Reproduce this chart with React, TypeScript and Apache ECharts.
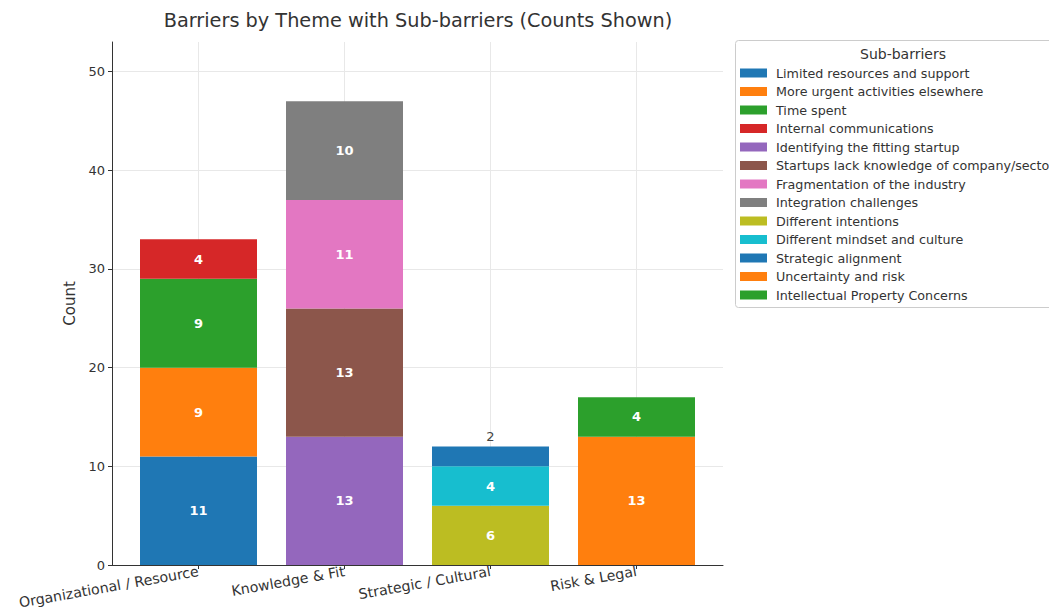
import React, { useEffect, useRef } from "react";
import * as echarts from "echarts";

const themes = ["Organizational / Resource", "Knowledge & Fit", "Strategic / Cultural", "Risk & Legal"];
const subBarriers = [
  "Limited resources and support",
  "More urgent activities elsewhere",
  "Time spent",
  "Internal communications",
  "Identifying the fitting startup",
  "Startups lack knowledge of company/sector",
  "Fragmentation of the industry",
  "Integration challenges",
  "Different intentions",
  "Different mindset and culture",
  "Strategic alignment",
  "Uncertainty and risk",
  "Intellectual Property Concerns",
];
const subTheme = [0, 0, 0, 0, 1, 1, 1, 1, 2, 2, 2, 3, 3];
const subCounts = [11, 9, 9, 4, 13, 13, 11, 10, 6, 4, 2, 13, 4];
const colors = [
  "#1f77b4", "#ff7f0e", "#2ca02c", "#d62728", "#9467bd", "#8c564b", "#e377c2",
  "#7f7f7f", "#bcbd22", "#17becf", "#1f77b4", "#ff7f0e", "#2ca02c",
];
const yTicks = [0, 10, 20, 30, 40, 50];
const themeIdx = [0, 1, 2, 3];

const FONT = "DejaVu Sans";

export default function App() {
  const ref = useRef<HTMLDivElement>(null);
  useEffect(() => {
    const chart = echarts.init(ref.current!, null, { renderer: "svg" });
    const series = subBarriers.map((name, i) => {
      const small = subCounts[i] < 3;
      return {
        type: "bar",
        name,
        stack: "total",
        xAxisIndex: 0,
        yAxisIndex: 0,
        barWidth: 117,
        itemStyle: { color: colors[i] },
        label: {
          show: true,
          position: small ? "top" : "inside",
          distance: 4,
          color: small ? "#444" : "#fff",
          fontWeight: small ? "normal" : "bold",
          fontSize: 13,
          fontFamily: FONT,
        },
        data: themeIdx.map((t) => (subTheme[i] === t ? subCounts[i] : null)),
      };
    });
    chart.setOption({
      animation: false,
      textStyle: { fontFamily: FONT },
      grid: [
        { left: 125.5, right: 339.5, top: 42, bottom: 49, containLabel: false, outerBoundsMode: "none" },
        { left: 112, right: 326, top: 42, bottom: 49, containLabel: false, outerBoundsMode: "none" },
      ],
      xAxis: [
        { type: "category", gridIndex: 0, data: themes, show: false },
        {
          type: "value",
          gridIndex: 1,
          min: -0.5925,
          max: 3.5925,
          axisLine: { show: true, onZero: false, lineStyle: { color: "#333", width: 1 } },
          axisTick: { show: true, customValues: themeIdx, length: 4, lineStyle: { color: "#333" } },
          axisLabel: {
            customValues: themeIdx,
            formatter: (v: number) => themes[Math.round(v)] ?? "",
            rotate: 10,
            fontSize: 14.2,
            color: "#333",
            fontFamily: FONT,
            margin: 6,
          },
          splitLine: { show: true, customValues: themeIdx, lineStyle: { color: "#e8e8e8" } },
        },
      ],
      yAxis: [
        { type: "value", gridIndex: 0, min: 0, max: 53, show: false },
        {
          type: "value",
          gridIndex: 1,
          min: 0,
          max: 53,
          name: "Count",
          nameLocation: "middle",
          nameGap: 30,
          nameTextStyle: { fontSize: 15, color: "#333", fontFamily: FONT },
          axisLine: { show: true, onZero: false, lineStyle: { color: "#333", width: 1 } },
          axisTick: { show: true, customValues: yTicks, length: 4, lineStyle: { color: "#333" } },
          axisLabel: { customValues: yTicks, fontSize: 13, color: "#333", fontFamily: FONT, margin: 7 },
          splitLine: { show: true, customValues: yTicks, lineStyle: { color: "#e8e8e8" } },
        },
      ],
      legend: {
        orient: "vertical",
        left: 740,
        top: 66,
        padding: 0,
        itemWidth: 27,
        itemHeight: 9,
        itemGap: 4.5,
        icon: "rect",
        data: subBarriers,
        textStyle: { fontSize: 12.7, color: "#333", fontFamily: FONT, lineHeight: 14, padding: [0, 0, 0, 4] },
      },
      graphic: [
        {
          type: "text",
          x: 418,
          y: 20,
          style: {
            text: "Barriers by Theme with Sub-barriers (Counts Shown)",
            fontSize: 19.3,
            fontFamily: FONT,
            fill: "#333",
            textAlign: "center",
            textVerticalAlign: "middle",
          },
        },
        {
          type: "rect",
          shape: { x: 735.5, y: 40.5, width: 340, height: 267, r: 3 },
          style: { fill: "none", stroke: "#cccccc", lineWidth: 1 },
          z: -1,
        },
        {
          type: "text",
          x: 903,
          y: 54,
          style: {
            text: "Sub-barriers",
            fontSize: 14,
            fontFamily: FONT,
            fill: "#333",
            textAlign: "center",
            textVerticalAlign: "middle",
          },
        },
      ],
      series,
    });
    return () => chart.dispose();
  }, []);
  return (
    <div
      ref={ref}
      style={{ position: "fixed", left: 0, top: 0, width: 1049, height: 614, background: "#fff" }}
    />
  );
}
